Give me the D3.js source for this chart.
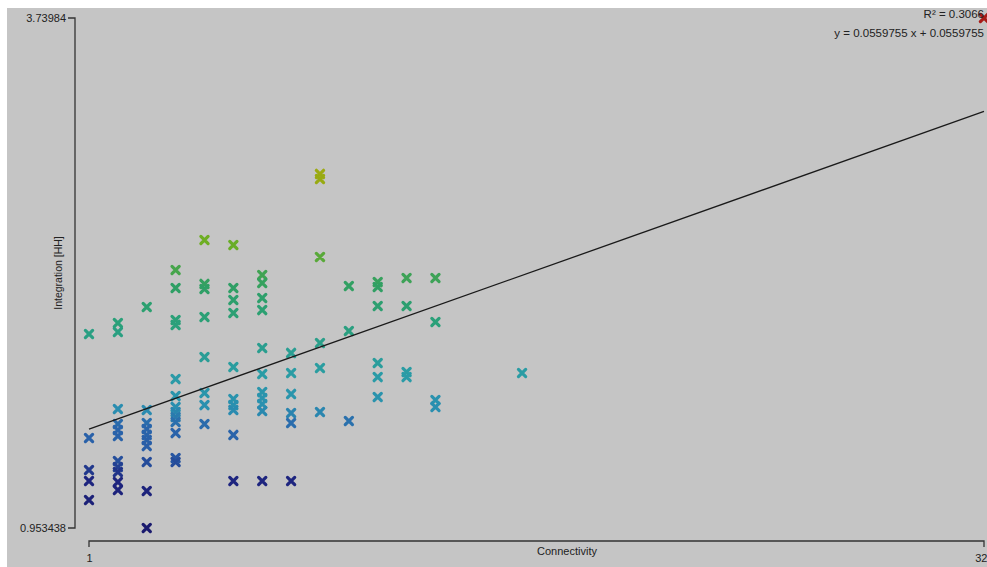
<!DOCTYPE html>
<html><head><meta charset="utf-8">
<script src="https://cdn.jsdelivr.net/npm/d3@7"></script>
<style>
html,body{margin:0;padding:0;background:#fff;}
svg{display:block;}
text{font-family:"Liberation Sans",Arial,sans-serif;fill:#222;}
</style></head>
<body><svg id="c" width="987" height="567"></svg>
<script>
// Connectivity (x) for each point
const connectivity = [
 1,1,1,1,1,
 2,2,2,2,2,2,2,2,2,2,2,
 3,3,3,3,3,3,3,3,3,3,
 4,4,4,4,4,4,4,4,4,4,4,4,4,
 5,5,5,5,5,5,5,5,
 6,6,6,6,6,6,6,6,6,6,
 7,7,7,7,7,7,7,7,7,7,7,
 8,8,8,8,8,8,
 9,9,9,9,9,9,
 10,10,10,
 11,11,11,11,11,11,
 12,12,12,12,
 13,13,13,13,
 16,
 32
];
// Integration [HH] (y) for each point
const integration = [
 2.013,1.445,1.270,1.210,1.106,
 2.073,2.024,1.604,1.522,1.489,1.456,1.319,1.287,1.259,1.205,1.161,
 2.161,1.598,1.527,1.494,1.462,1.434,1.401,1.314,1.156,0.953438,
 2.363,2.265,2.090,2.063,1.767,1.675,1.615,1.587,1.560,1.533,1.472,1.336,1.314,
 2.527,2.287,2.259,2.106,1.888,1.691,1.625,1.522,
 2.500,2.265,2.199,2.128,1.833,1.658,1.625,1.598,1.462,1.210,
 2.336,2.292,2.210,2.144,1.937,1.795,1.696,1.664,1.631,1.593,1.210,
 1.910,1.800,1.686,1.582,1.527,1.210,
 2.888,2.860,2.434,1.964,1.828,1.587,
 2.276,2.030,1.538,
 2.297,2.270,2.166,1.855,1.778,1.669,
 2.319,2.166,1.806,1.778,
 2.319,2.079,1.653,1.615,
 1.800,
 3.73984
];
const xTicks = [1, 32];
const yTicks = [0.953438, 3.73984];
const slope = 0.0559755;
const intercept = 1.438;
const statLines = ["R\u00B2 = 0.3066", "y = 0.0559755 x + 0.0559755"];
const colorStops = ["#1a1a6e","#1e2680","#285aa4","#2a66ac","#2a8fb0","#2a9ca6","#2aa07a","#2f9f66","#6cae24","#9eaa10","#c87a12","#a81a18"];
const colorPos = [0,0.1,0.14,0.2,0.235,0.3,0.4,0.47,0.56,0.7,0.85,1];

const svg = d3.select("#c");
svg.append("rect").attr("x",7).attr("y",8).attr("width",980).attr("height",559).attr("fill","#c5c5c5");

const x = d3.scaleLinear().domain([1,32]).range([89,984]);
const y = d3.scaleLinear().domain([0.953438,3.73984]).range([528,18]);
const col = d3.scaleLinear()
  .domain(colorPos.map(p=>0.953438 + (3.73984-0.953438)*p))
  .range(colorStops).interpolate(d3.interpolateRgb);

// Y axis
const yAxis = d3.axisLeft(y).tickValues(yTicks).tickSize(7).tickFormat(d=>String(d));
const gy = svg.append("g").attr("transform","translate(75,0)").call(yAxis);
gy.select(".domain").attr("d","M-7,18H0V528H-7").attr("stroke","#333").attr("stroke-width",1.3);
gy.selectAll(".tick line").remove();
gy.selectAll("text").attr("font-size",11).attr("fill","#222").attr("x",-9).attr("font-family","Liberation Sans, Arial, sans-serif");

// X axis
const xAxis = d3.axisBottom(x).tickValues(xTicks).tickSize(6).tickFormat(d=>String(d));
const gx = svg.append("g").attr("transform","translate(0,541)").call(xAxis);
gx.select(".domain").attr("d","M89,6V0H984V6").attr("stroke","#333").attr("stroke-width",1.3);
gx.selectAll(".tick line").remove();
gx.selectAll("text").attr("font-size",11).attr("fill","#222").attr("y",13).attr("font-family","Liberation Sans, Arial, sans-serif");
gx.selectAll(".tick").filter(d=>d===32).select("text").attr("text-anchor","end").attr("x",3);

svg.append("text").attr("x",567).attr("y",555).attr("text-anchor","middle").attr("font-size",11).text("Connectivity");
svg.append("text").attr("transform","translate(62,273) rotate(-90)").attr("text-anchor","middle").attr("font-size",10.5).text("Integration [HH]");

// Points
const pts = connectivity.map((c,i)=>({x:c,y:integration[i]}));
const s = 3.6;
const g = svg.append("g");
pts.forEach(p=>{
  const cx = x(p.x), cy = y(p.y), c = col(p.y);
  g.append("path").attr("d",`M${cx-s},${cy-s}L${cx+s},${cy+s}M${cx-s},${cy+s}L${cx+s},${cy-s}`)
   .attr("stroke",c).attr("stroke-width",3.2).attr("stroke-linecap","round").attr("fill","none");
});

// Regression line
svg.append("line").attr("x1",x(1)).attr("y1",y(slope*1+intercept)).attr("x2",x(32)).attr("y2",y(slope*32+intercept))
  .attr("stroke","#1a1a1a").attr("stroke-width",1.3);

// Stats
statLines.forEach((t,i)=>{
  svg.append("text").attr("x",984).attr("y",18+i*19).attr("text-anchor","end").attr("font-size",11.5).text(t);
});
</script></body></html>
